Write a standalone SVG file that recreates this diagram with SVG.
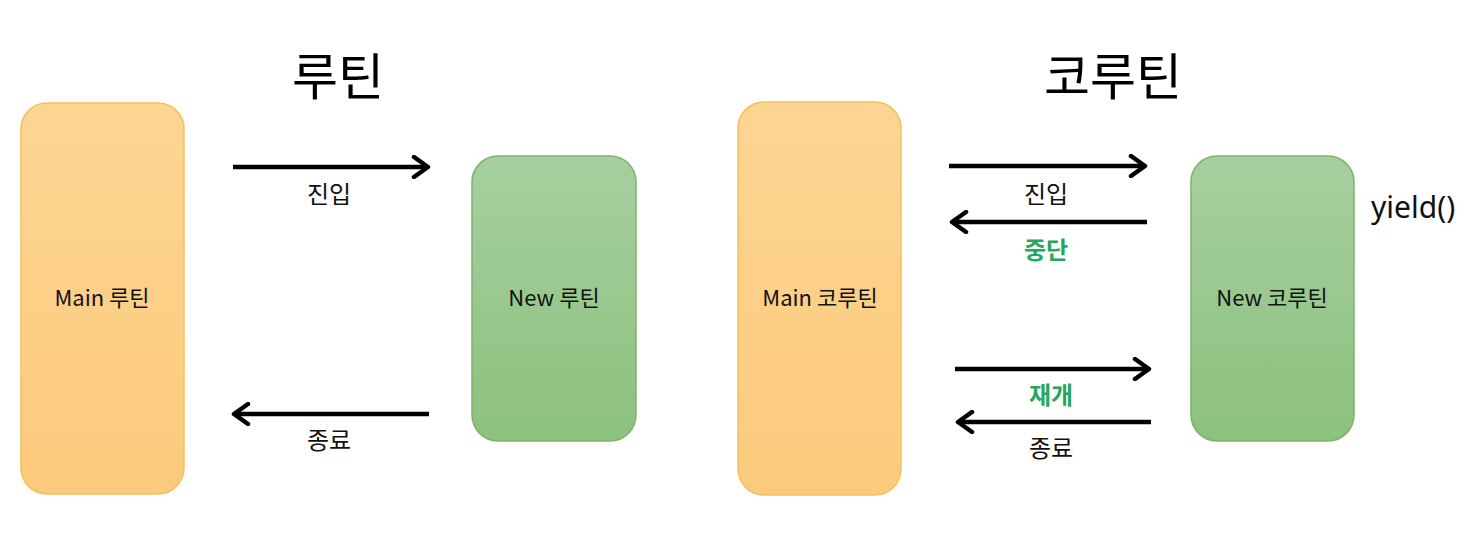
<svg xmlns="http://www.w3.org/2000/svg" width="1478" height="539" viewBox="0 0 1478 539">
<defs>
<linearGradient id="gOrange" x1="0" y1="0" x2="0" y2="1"><stop offset="0" stop-color="#FDD593"/><stop offset="1" stop-color="#FCCA7C"/></linearGradient>
<linearGradient id="gGreen" x1="0" y1="0" x2="0" y2="1"><stop offset="0" stop-color="#A7CF9F"/><stop offset="1" stop-color="#8CC17E"/></linearGradient>
<marker id="arr" viewBox="0 0 24 24" refX="20" refY="12" markerWidth="24" markerHeight="24" markerUnits="userSpaceOnUse" orient="auto">
<path d="M6 2 L20 12 L6 22" fill="none" stroke="#000" stroke-width="4.5" stroke-linecap="round" stroke-linejoin="round"/>
</marker>
<style>
.orange{fill:url(#gOrange);stroke:#F2C15E;stroke-width:1.5}
.green{fill:url(#gGreen);stroke:#7FB26B;stroke-width:1.5}
.lbl{font-family:"Noto Sans CJK KR","Noto Sans",sans-serif;font-size:22px;fill:#111;text-anchor:middle}
.title{font-family:"Noto Sans CJK KR","Noto Sans",sans-serif;font-size:50px;fill:#000;text-anchor:middle}
.edge{font-family:"Noto Sans CJK KR","Noto Sans",sans-serif;font-size:24px;fill:#111;text-anchor:middle}
.gtxt{font-family:"Noto Sans CJK KR","Noto Sans",sans-serif;font-size:24px;fill:#22A85A;font-weight:bold;text-anchor:middle}
.conn line{stroke:#000;stroke-width:4.5;marker-end:url(#arr)}
</style>
</defs>
<rect width="1478" height="539" fill="#fff"/>
<text class="title" x="338" y="95">루틴</text>
<text class="title" x="1113" y="95">코루틴</text>
<g id="main-routine"><rect class="orange" x="21" y="103" width="163" height="391" rx="26"/><text class="lbl" x="102" y="306">Main 루틴</text></g>
<g id="new-routine"><rect class="green" x="472" y="156" width="164" height="285" rx="26"/><text class="lbl" x="554" y="306">New 루틴</text></g>
<g id="main-coroutine"><rect class="orange" x="738" y="102" width="163" height="393" rx="26"/><text class="lbl" x="820" y="306">Main 코루틴</text></g>
<g id="new-coroutine"><rect class="green" x="1191" y="156" width="163" height="285" rx="26"/><text class="lbl" x="1272" y="306">New 코루틴</text></g>
<g class="conn">
<line x1="233" y1="167" x2="428" y2="167"/>
<line x1="429" y1="414" x2="234" y2="414"/>
<line x1="949" y1="166" x2="1145" y2="166"/>
<line x1="1147" y1="222" x2="952" y2="222"/>
<line x1="955" y1="369" x2="1149" y2="369"/>
<line x1="1151" y1="422" x2="958" y2="422"/>
</g>
<g id="labels">
<text class="edge" x="329" y="203">진입</text>
<text class="edge" x="329" y="449">종료</text>
<text class="edge" x="1046" y="203">진입</text>
<text class="gtxt" x="1046" y="259">중단</text>
<text class="gtxt" x="1051" y="404">재개</text>
<text class="edge" x="1051" y="457">종료</text>
<text x="1371" y="218" font-family="'Noto Sans','Noto Sans CJK KR',sans-serif" font-size="30" fill="#111">yield()</text>
</g>
</svg>
